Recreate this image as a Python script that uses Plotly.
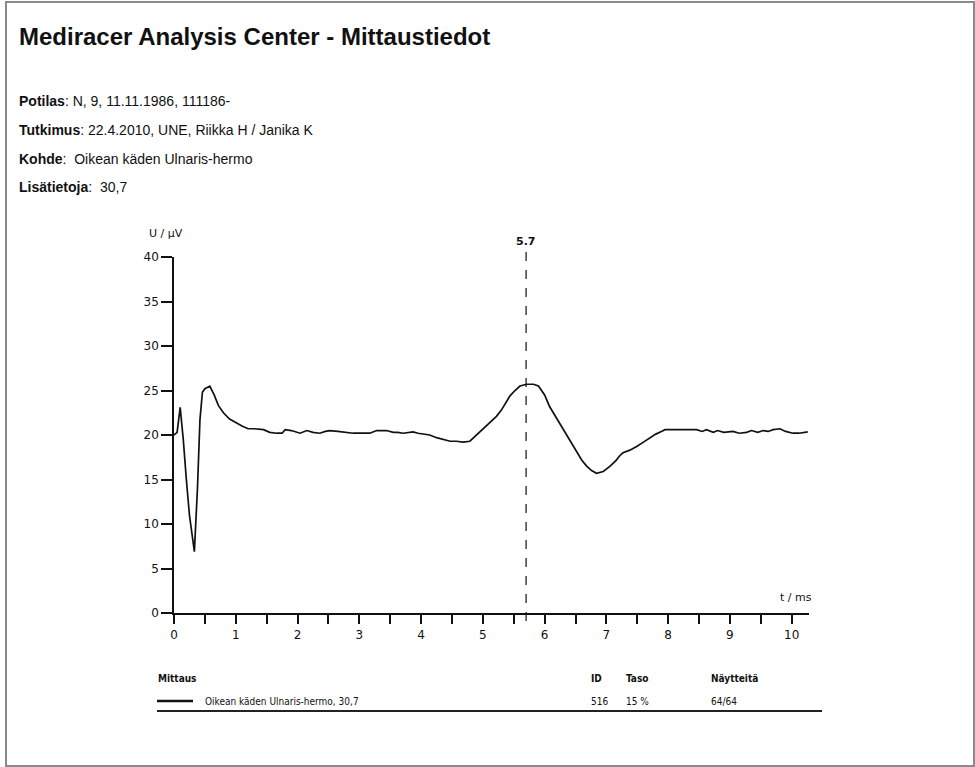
import plotly.graph_objects as go

# ---- data ----
t_ms = [0, 0.05, 0.1, 0.15, 0.2, 0.25, 0.33, 0.38, 0.42, 0.46, 0.5, 0.58, 0.65, 0.72, 0.8, 0.9,
        1.0, 1.1, 1.2, 1.3, 1.45, 1.55, 1.66, 1.75, 1.8, 1.9, 2.04, 2.1, 2.15, 2.25, 2.36, 2.45,
        2.52, 2.65, 2.8, 2.9, 3.05, 3.17, 3.28, 3.35, 3.44, 3.55, 3.62, 3.71, 3.8, 3.87, 3.95,
        4.05, 4.14, 4.25, 4.36, 4.47, 4.57, 4.68, 4.79, 4.87, 4.95, 5.05, 5.15, 5.22, 5.3, 5.37,
        5.44, 5.52, 5.6, 5.71, 5.82, 5.9, 6.0, 6.08, 6.2, 6.3, 6.42, 6.52, 6.6, 6.68, 6.76, 6.84,
        6.95, 7.06, 7.15, 7.22, 7.27, 7.38, 7.49, 7.6, 7.7, 7.8, 7.89, 7.95, 8.05, 8.19, 8.3,
        8.46, 8.55, 8.62, 8.73, 8.8, 8.9, 9.05, 9.15, 9.27, 9.35, 9.45, 9.54, 9.62, 9.7, 9.81,
        9.9, 10.02, 10.12, 10.2, 10.26]
u_uV = [20.0, 20.3, 23.1, 19.5, 15.0, 11.0, 6.9, 14.0, 21.7, 24.8, 25.2, 25.5, 24.5, 23.3, 22.5, 21.8,
        21.4, 21.0, 20.7, 20.7, 20.6, 20.3, 20.2, 20.2, 20.6, 20.5, 20.2, 20.4, 20.5, 20.3, 20.2, 20.4,
        20.5, 20.4, 20.3, 20.2, 20.2, 20.2, 20.5, 20.5, 20.5, 20.3, 20.3, 20.2, 20.3, 20.35, 20.2,
        20.1, 20.0, 19.7, 19.5, 19.3, 19.3, 19.2, 19.3, 19.8, 20.4, 21.0, 21.6, 22.1, 22.8, 23.6,
        24.4, 25.0, 25.5, 25.7, 25.7, 25.5, 24.5, 23.2, 21.8, 20.6, 19.2, 18.0, 17.2, 16.5, 16.0, 15.7,
        15.9, 16.5, 17.1, 17.7, 18.0, 18.3, 18.7, 19.2, 19.7, 20.1, 20.4, 20.6, 20.6, 20.6, 20.6,
        20.6, 20.4, 20.6, 20.3, 20.5, 20.3, 20.4, 20.2, 20.3, 20.5, 20.3, 20.5, 20.4, 20.6, 20.7,
        20.4, 20.2, 20.2, 20.3, 20.35]
assert len(t_ms) == len(u_uV)

marker_t = 5.7
x_ticks = list(range(0, 11))
y_ticks = [0, 5, 10, 15, 20, 25, 30, 35, 40]

title_text = "Mediracer Analysis Center - Mittaustiedot"
info_rows = [("Potilas", ": N, 9, 11.11.1986, 111186-"),
             ("Tutkimus", ": 22.4.2010, UNE, Riikka H / Janika K"),
             ("Kohde", ":  Oikean käden Ulnaris-hermo"),
             ("Lisätietoja", ":  30,7")]
table_headers = ["Mittaus", "ID", "Taso", "Näytteitä"]
table_row = ["Oikean käden Ulnaris-hermo, 30,7", "516", "15 %", "64/64"]

# ---- layout geometry (pixels) ----
W, H = 975, 767
L, R, T, B = 174, 809, 257, 613


def px(x):
    return (x - L) / (R - L)


def py(y):
    return (B - y) / (B - T)


fig = go.Figure()
fig.add_trace(go.Scatter(x=t_ms, y=u_uV, mode="lines",
                         line=dict(color="#111111", width=1.7),
                         hoverinfo="skip", showlegend=False))

tickfont = dict(family="DejaVu Sans", size=12, color="#111111")
fig.update_xaxes(range=[0, 10.28], showgrid=False, zeroline=False,
                 showline=True, linecolor="#111111", linewidth=2.2,
                 tickvals=x_ticks, ticktext=[str(v) for v in x_ticks],
                 ticks="outside", ticklen=9, tickwidth=2, tickcolor="#111111",
                 tickfont=tickfont,
                 minor=dict(dtick=0.5, tick0=0, ticks="outside", ticklen=9,
                            tickwidth=2, tickcolor="#111111", showgrid=False))
fig.update_yaxes(range=[0, 40], showgrid=False, zeroline=False,
                 showline=True, linecolor="#111111", linewidth=1.6,
                 tickvals=y_ticks, ticks="outside", ticklen=11, tickwidth=2,
                 tickcolor="#111111", tickfont=tickfont)

shapes = []
annotations = []

# page border
shapes.append(dict(type="rect", xref="paper", yref="paper",
                   x0=px(6), x1=px(974), y0=py(766), y1=py(2),
                   line=dict(color="#8a8a8a", width=2), layer="below"))

# marker line
shapes.append(dict(type="line", xref="x", yref="paper", x0=marker_t, x1=marker_t,
                   y0=py(621), y1=py(251),
                   line=dict(color="#111111", width=1.2, dash="dash")))
annotations.append(dict(x=marker_t, y=py(242), xref="x", yref="paper",
                        text="<b>%s</b>" % marker_t, showarrow=False,
                        xanchor="center", yanchor="middle",
                        font=dict(family="DejaVu Sans", size=11, color="#111111")))

# axis titles
annotations.append(dict(x=px(166), y=py(233), xref="paper", yref="paper",
                        text="U / µV", showarrow=False, xanchor="center", yanchor="middle",
                        font=dict(family="DejaVu Sans", size=11, color="#111111")))
annotations.append(dict(x=px(796), y=py(597), xref="paper", yref="paper",
                        text="t / ms", showarrow=False, xanchor="center", yanchor="middle",
                        font=dict(family="DejaVu Sans", size=11, color="#111111")))

# title & info rows
annotations.append(dict(x=px(17), y=py(36), xref="paper", yref="paper",
                        text="<b>%s</b>" % title_text, showarrow=False,
                        xanchor="left", yanchor="middle",
                        font=dict(family="Liberation Sans", size=24, color="#111111")))
for i, (lab, val) in enumerate(info_rows):
    annotations.append(dict(x=px(17), y=py(101 + i * 28.8), xref="paper", yref="paper",
                            text="<b>%s</b>%s" % (lab, val), showarrow=False,
                            xanchor="left", yanchor="middle",
                            font=dict(family="Liberation Sans", size=14, color="#111111")))

# table
tfont = dict(family="Liberation Sans Narrow, DejaVu Sans Condensed, Liberation Sans",
             size=10, color="#111111")
col_x = [156, 589, 624, 709]
for cx, h in zip(col_x, table_headers):
    annotations.append(dict(x=px(cx), y=py(678), xref="paper", yref="paper",
                            text="<b>%s</b>" % h, showarrow=False,
                            xanchor="left", yanchor="middle", font=tfont))
row_x = [203, 589, 624, 709]
for cx, v in zip(row_x, table_row):
    annotations.append(dict(x=px(cx), y=py(701), xref="paper", yref="paper",
                            text=v, showarrow=False,
                            xanchor="left", yanchor="middle", font=tfont))
shapes.append(dict(type="line", xref="paper", yref="paper",
                   x0=px(157), x1=px(193), y0=py(701), y1=py(701),
                   line=dict(color="#111111", width=2.5)))
shapes.append(dict(type="line", xref="paper", yref="paper",
                   x0=px(157), x1=px(822), y0=py(711), y1=py(711),
                   line=dict(color="#222222", width=2)))

fig.update_layout(width=W, height=H,
                  margin=dict(l=L, r=W - R, t=T, b=H - B, pad=0),
                  paper_bgcolor="white", plot_bgcolor="white",
                  shapes=shapes, annotations=annotations, showlegend=False)

fig.write_html("out.html")
